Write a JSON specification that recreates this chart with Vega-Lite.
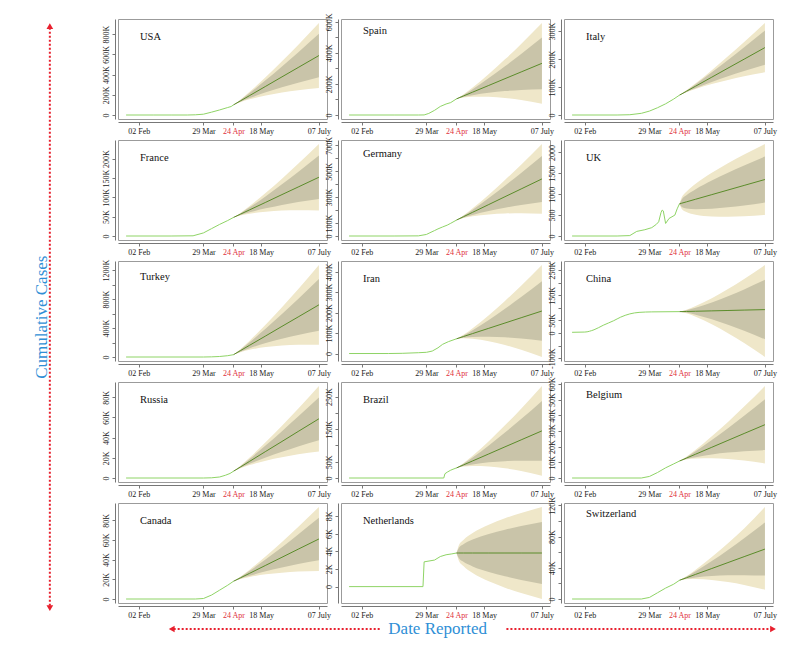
{
"$schema": "https://vega.github.io/schema/vega-lite/v6.json",
"padding": {"left": 5, "top": 12, "right": 5, "bottom": 5},
"background": "white",
"datasets": {"d": [
{"c":"USA","d":"2020-01-22","v":0},{"c":"USA","d":"2020-02-15","v":0},{"c":"USA","d":"2020-03-01","v":0},{"c":"USA","d":"2020-03-15","v":0},{"c":"USA","d":"2020-03-22","v":2},{"c":"USA","d":"2020-03-29","v":8},{"c":"USA","d":"2020-04-05","v":28},{"c":"USA","d":"2020-04-12","v":50},{"c":"USA","d":"2020-04-19","v":74},{"c":"USA","d":"2020-04-22","v":84},{"c":"USA","d":"2020-04-24","v":100},
{"c":"USA","d":"2020-04-24","m":100,"l9":100,"l8":100,"h8":100,"h9":100},{"c":"USA","d":"2020-04-30","m":139.5,"l9":127.3,"l8":131.3,"h8":147.7,"h9":151.7},{"c":"USA","d":"2020-05-08","m":192.2,"l9":155.2,"l8":167.5,"h8":216.9,"h9":229.2},{"c":"USA","d":"2020-05-22","m":284.5,"l9":193.7,"l8":223.9,"h8":345.1,"h9":375.3},{"c":"USA","d":"2020-06-05","m":377.2,"l9":223.0,"l8":274.2,"h8":480.2,"h9":531.4},{"c":"USA","d":"2020-06-19","m":469.4,"l9":245.3,"l8":319.8,"h8":619.0,"h9":693.5},{"c":"USA","d":"2020-07-07","m":588,"l9":266,"l8":373,"h8":803,"h9":910},
{"c":"Spain","d":"2020-01-22","v":0},{"c":"Spain","d":"2020-03-01","v":0},{"c":"Spain","d":"2020-03-22","v":0},{"c":"Spain","d":"2020-03-27","v":0.5},{"c":"Spain","d":"2020-03-31","v":10},{"c":"Spain","d":"2020-04-05","v":30},{"c":"Spain","d":"2020-04-10","v":55},{"c":"Spain","d":"2020-04-15","v":71},{"c":"Spain","d":"2020-04-19","v":80},{"c":"Spain","d":"2020-04-24","v":104},
{"c":"Spain","d":"2020-04-24","m":104,"l9":104,"l8":104,"h8":104,"h9":104},{"c":"Spain","d":"2020-04-30","m":122.5,"l9":112.6,"l8":116.2,"h8":128.8,"h9":132.4},{"c":"Spain","d":"2020-05-08","m":147.3,"l9":117.4,"l8":128.1,"h8":166.5,"h9":177.2},{"c":"Spain","d":"2020-05-22","m":190.6,"l9":117.3,"l8":143.5,"h8":237.7,"h9":263.9},{"c":"Spain","d":"2020-06-05","m":234.1,"l9":109.6,"l8":154.1,"h8":314.1,"h9":358.6},{"c":"Spain","d":"2020-06-19","m":277.4,"l9":96.4,"l8":161.2,"h8":393.6,"h9":458.4},{"c":"Spain","d":"2020-07-07","m":333,"l9":73,"l8":166,"h8":500,"h9":593},
{"c":"Italy","d":"2020-01-22","v":0},{"c":"Italy","d":"2020-03-01","v":0},{"c":"Italy","d":"2020-03-12","v":1},{"c":"Italy","d":"2020-03-22","v":6},{"c":"Italy","d":"2020-03-29","v":14},{"c":"Italy","d":"2020-04-05","v":26},{"c":"Italy","d":"2020-04-12","v":40},{"c":"Italy","d":"2020-04-19","v":57},{"c":"Italy","d":"2020-04-24","v":71},
{"c":"Italy","d":"2020-04-24","m":71,"l9":71,"l8":71,"h8":71,"h9":71},{"c":"Italy","d":"2020-04-30","m":84.8,"l9":81.5,"l8":82.5,"h8":87.1,"h9":88.1},{"c":"Italy","d":"2020-05-08","m":103.1,"l9":93.0,"l8":96.1,"h8":110.1,"h9":113.2},{"c":"Italy","d":"2020-05-22","m":135.3,"l9":110.5,"l8":118.1,"h8":152.5,"h9":160.1},{"c":"Italy","d":"2020-06-05","m":167.6,"l9":125.4,"l8":138.4,"h8":196.8,"h9":209.8},{"c":"Italy","d":"2020-06-19","m":199.7,"l9":138.5,"l8":157.2,"h8":242.2,"h9":260.9},{"c":"Italy","d":"2020-07-07","m":241,"l9":153,"l8":180,"h8":302,"h9":329},
{"c":"France","d":"2020-01-22","v":0},{"c":"France","d":"2020-03-01","v":0},{"c":"France","d":"2020-03-20","v":0.5},{"c":"France","d":"2020-03-29","v":8},{"c":"France","d":"2020-04-05","v":19},{"c":"France","d":"2020-04-12","v":30},{"c":"France","d":"2020-04-19","v":40},{"c":"France","d":"2020-04-24","v":48},
{"c":"France","d":"2020-04-24","m":48,"l9":48,"l8":48,"h8":48,"h9":48},{"c":"France","d":"2020-04-30","m":56.4,"l9":53.1,"l8":54.3,"h8":58.5,"h9":59.7},{"c":"France","d":"2020-05-08","m":67.7,"l9":57.8,"l8":61.3,"h8":74.1,"h9":77.6},{"c":"France","d":"2020-05-22","m":87.3,"l9":63.0,"l8":71.5,"h8":103.1,"h9":111.6},{"c":"France","d":"2020-06-05","m":107.1,"l9":65.9,"l8":80.3,"h8":133.9,"h9":148.3},{"c":"France","d":"2020-06-19","m":126.7,"l9":66.8,"l8":87.7,"h8":165.7,"h9":186.6},{"c":"France","d":"2020-07-07","m":152,"l9":66,"l8":96,"h8":208,"h9":238},
{"c":"Germany","d":"2020-01-22","v":0},{"c":"Germany","d":"2020-03-01","v":0},{"c":"Germany","d":"2020-03-22","v":1},{"c":"Germany","d":"2020-03-29","v":12},{"c":"Germany","d":"2020-04-01","v":25},{"c":"Germany","d":"2020-04-05","v":42},{"c":"Germany","d":"2020-04-08","v":55},{"c":"Germany","d":"2020-04-12","v":70},{"c":"Germany","d":"2020-04-16","v":84},{"c":"Germany","d":"2020-04-19","v":98},{"c":"Germany","d":"2020-04-24","v":123},
{"c":"Germany","d":"2020-04-24","m":123,"l9":123,"l8":123,"h8":123,"h9":123},{"c":"Germany","d":"2020-04-30","m":148.8,"l9":138.5,"l8":142.0,"h8":155.6,"h9":159.1},{"c":"Germany","d":"2020-05-08","m":183.1,"l9":152.0,"l8":162.6,"h8":203.6,"h9":214.2},{"c":"Germany","d":"2020-05-22","m":243.2,"l9":167.1,"l8":193.0,"h8":293.4,"h9":319.3},{"c":"Germany","d":"2020-06-05","m":303.6,"l9":174.3,"l8":218.3,"h8":388.9,"h9":432.9},{"c":"Germany","d":"2020-06-19","m":363.7,"l9":175.8,"l8":239.8,"h8":487.6,"h9":551.6},{"c":"Germany","d":"2020-07-07","m":441,"l9":171,"l8":263,"h8":619,"h9":711},
{"c":"UK","d":"2020-01-22","v":0},{"c":"UK","d":"2020-03-01","v":0},{"c":"UK","d":"2020-03-12","v":10},{"c":"UK","d":"2020-03-18","v":110},{"c":"UK","d":"2020-03-25","v":150},{"c":"UK","d":"2020-03-31","v":200},{"c":"UK","d":"2020-04-04","v":280},{"c":"UK","d":"2020-04-06","v":340},{"c":"UK","d":"2020-04-08","v":560},{"c":"UK","d":"2020-04-09","v":620},{"c":"UK","d":"2020-04-10","v":600},{"c":"UK","d":"2020-04-12","v":300},{"c":"UK","d":"2020-04-15","v":420},{"c":"UK","d":"2020-04-20","v":500},{"c":"UK","d":"2020-04-22","v":650},{"c":"UK","d":"2020-04-24","v":770},
{"c":"UK","d":"2020-04-24","m":770,"l9":770,"l8":770,"h8":770,"h9":770},{"c":"UK","d":"2020-04-26","m":785.7,"l9":646.3,"l8":695.5,"h8":875.9,"h9":925.1},{"c":"UK","d":"2020-04-30","m":817.1,"l9":574.8,"l8":660.3,"h8":973.9,"h9":1059.4},{"c":"UK","d":"2020-05-08","m":880,"l9":510.2,"l8":640.7,"h8":1119.3,"h9":1249.8},{"c":"UK","d":"2020-05-22","m":990,"l9":467.2,"l8":651.7,"h8":1328.3,"h9":1512.8},{"c":"UK","d":"2020-06-05","m":1100.6,"l9":459.7,"l8":685.9,"h8":1515.3,"h9":1741.5},{"c":"UK","d":"2020-06-19","m":1210.6,"l9":471.1,"l8":732.1,"h8":1689.1,"h9":1950.1},{"c":"UK","d":"2020-07-07","m":1352,"l9":502,"l8":802,"h8":1902,"h9":2202},
{"c":"Turkey","d":"2020-01-22","v":0},{"c":"Turkey","d":"2020-03-29","v":0},{"c":"Turkey","d":"2020-04-05","v":2},{"c":"Turkey","d":"2020-04-12","v":7},{"c":"Turkey","d":"2020-04-19","v":18},{"c":"Turkey","d":"2020-04-24","v":32},
{"c":"Turkey","d":"2020-04-24","m":32,"l9":32,"l8":32,"h8":32,"h9":32},{"c":"Turkey","d":"2020-04-30","m":87.7,"l9":66.8,"l8":74.2,"h8":101.2,"h9":108.6},{"c":"Turkey","d":"2020-05-08","m":162,"l9":98.7,"l8":121.1,"h8":202.9,"h9":225.3},{"c":"Turkey","d":"2020-05-22","m":292,"l9":136.9,"l8":191.6,"h8":392.4,"h9":447.1},{"c":"Turkey","d":"2020-06-05","m":422.8,"l9":159.3,"l8":252.3,"h8":593.3,"h9":686.3},{"c":"Turkey","d":"2020-06-19","m":552.8,"l9":170.0,"l8":305.0,"h8":800.6,"h9":935.6},{"c":"Turkey","d":"2020-07-07","m":720,"l9":170,"l8":364,"h8":1076,"h9":1270},
{"c":"Iran","d":"2020-01-22","v":0},{"c":"Iran","d":"2020-02-25","v":0},{"c":"Iran","d":"2020-03-08","v":1},{"c":"Iran","d":"2020-03-22","v":4},{"c":"Iran","d":"2020-03-29","v":6},{"c":"Iran","d":"2020-04-03","v":12},{"c":"Iran","d":"2020-04-08","v":28},{"c":"Iran","d":"2020-04-12","v":45},{"c":"Iran","d":"2020-04-17","v":58},{"c":"Iran","d":"2020-04-24","v":72},
{"c":"Iran","d":"2020-04-24","m":72,"l9":72,"l8":72,"h8":72,"h9":72},{"c":"Iran","d":"2020-04-30","m":83.0,"l9":74.4,"l8":77.5,"h8":88.5,"h9":91.6},{"c":"Iran","d":"2020-05-08","m":97.7,"l9":71.8,"l8":81.0,"h8":114.4,"h9":123.6},{"c":"Iran","d":"2020-05-22","m":123.4,"l9":59.9,"l8":82.5,"h8":164.3,"h9":186.9},{"c":"Iran","d":"2020-06-05","m":149.2,"l9":41.4,"l8":79.7,"h8":218.7,"h9":257.0},{"c":"Iran","d":"2020-06-19","m":175.0,"l9":18.4,"l8":74.1,"h8":275.9,"h9":331.6},{"c":"Iran","d":"2020-07-07","m":208,"l9":-17,"l8":63,"h8":353,"h9":433},
{"c":"China","d":"2020-01-22","v":3},{"c":"China","d":"2020-02-02","v":4},{"c":"China","d":"2020-02-10","v":13},{"c":"China","d":"2020-02-18","v":31},{"c":"China","d":"2020-02-27","v":49},{"c":"China","d":"2020-03-04","v":63},{"c":"China","d":"2020-03-12","v":76},{"c":"China","d":"2020-03-20","v":82},{"c":"China","d":"2020-03-31","v":84},{"c":"China","d":"2020-04-24","v":85},
{"c":"China","d":"2020-04-24","m":85,"l9":85,"l8":85,"h8":85,"h9":85},{"c":"China","d":"2020-04-30","m":85.6,"l9":78.5,"l8":81.1,"h8":90.1,"h9":92.3},{"c":"China","d":"2020-05-08","m":86.5,"l9":64.9,"l8":72.9,"h8":100.1,"h9":106.9},{"c":"China","d":"2020-05-22","m":88.0,"l9":35.0,"l8":54.7,"h8":121.3,"h9":137.9},{"c":"China","d":"2020-06-05","m":89.5,"l9":-0.5,"l8":33.0,"h8":146.0,"h9":174.3},{"c":"China","d":"2020-06-19","m":91.1,"l9":-39.7,"l8":9.0,"h8":173.2,"h9":214.3},{"c":"China","d":"2020-07-07","m":93,"l9":-95,"l8":-25,"h8":211,"h9":270},
{"c":"Russia","d":"2020-01-22","v":0},{"c":"Russia","d":"2020-03-29","v":0},{"c":"Russia","d":"2020-04-05","v":0.2},{"c":"Russia","d":"2020-04-12","v":1},{"c":"Russia","d":"2020-04-17","v":2.7},{"c":"Russia","d":"2020-04-21","v":4.5},{"c":"Russia","d":"2020-04-24","v":6.7},
{"c":"Russia","d":"2020-04-24","m":6.7,"l9":6.7,"l8":6.7,"h8":6.7,"h9":6.7},{"c":"Russia","d":"2020-04-30","m":10.9,"l9":9.7,"l8":10.1,"h8":11.7,"h9":12.1},{"c":"Russia","d":"2020-05-08","m":16.5,"l9":12.8,"l8":14.1,"h8":18.9,"h9":20.2},{"c":"Russia","d":"2020-05-22","m":26.4,"l9":17.2,"l8":20.4,"h8":32.4,"h9":35.6},{"c":"Russia","d":"2020-06-05","m":36.2,"l9":20.6,"l8":26.0,"h8":46.4,"h9":51.8},{"c":"Russia","d":"2020-06-19","m":46.1,"l9":23.5,"l8":31.3,"h8":60.9,"h9":68.7},{"c":"Russia","d":"2020-07-07","m":58.7,"l9":26.2,"l8":37.5,"h8":79.9,"h9":91.2},
{"c":"Brazil","d":"2020-01-22","v":0},{"c":"Brazil","d":"2020-04-13","v":0},{"c":"Brazil","d":"2020-04-14","v":13},{"c":"Brazil","d":"2020-04-16","v":18},{"c":"Brazil","d":"2020-04-19","v":24},{"c":"Brazil","d":"2020-04-21","v":27},{"c":"Brazil","d":"2020-04-24","v":31},
{"c":"Brazil","d":"2020-04-24","m":31,"l9":31,"l8":31,"h8":31,"h9":31},{"c":"Brazil","d":"2020-04-30","m":40.2,"l9":35.0,"l8":36.7,"h8":43.7,"h9":45.4},{"c":"Brazil","d":"2020-05-08","m":52.5,"l9":36.6,"l8":41.9,"h8":63.1,"h9":68.4},{"c":"Brazil","d":"2020-05-22","m":74.1,"l9":35.2,"l8":48.2,"h8":100.0,"h9":113.0},{"c":"Brazil","d":"2020-06-05","m":95.8,"l9":29.7,"l8":51.7,"h8":139.9,"h9":161.9},{"c":"Brazil","d":"2020-06-19","m":117.3,"l9":21.3,"l8":53.3,"h8":181.3,"h9":213.3},{"c":"Brazil","d":"2020-07-07","m":145,"l9":7,"l8":53,"h8":237,"h9":283},
{"c":"Belgium","d":"2020-01-22","v":0},{"c":"Belgium","d":"2020-03-22","v":0},{"c":"Belgium","d":"2020-03-29","v":1},{"c":"Belgium","d":"2020-04-05","v":3.5},{"c":"Belgium","d":"2020-04-12","v":6.5},{"c":"Belgium","d":"2020-04-19","v":9},{"c":"Belgium","d":"2020-04-24","v":10.8},
{"c":"Belgium","d":"2020-04-24","m":10.8,"l9":10.8,"l8":10.8,"h8":10.8,"h9":10.8},{"c":"Belgium","d":"2020-04-30","m":12.7,"l9":11.8,"l8":12.1,"h8":13.3,"h9":13.6},{"c":"Belgium","d":"2020-05-08","m":15.2,"l9":12.4,"l8":13.3,"h8":17.1,"h9":18.0},{"c":"Belgium","d":"2020-05-22","m":19.6,"l9":12.6,"l8":15.0,"h8":24.2,"h9":26.6},{"c":"Belgium","d":"2020-06-05","m":24.0,"l9":12.2,"l8":16.2,"h8":31.8,"h9":35.8},{"c":"Belgium","d":"2020-06-19","m":28.4,"l9":11.2,"l8":17.1,"h8":39.7,"h9":45.6},{"c":"Belgium","d":"2020-07-07","m":34,"l9":9.3,"l8":17.8,"h8":50.2,"h9":58.7},
{"c":"Canada","d":"2020-01-22","v":0},{"c":"Canada","d":"2020-03-22","v":0},{"c":"Canada","d":"2020-03-29","v":0.5},{"c":"Canada","d":"2020-04-05","v":4},{"c":"Canada","d":"2020-04-12","v":9},{"c":"Canada","d":"2020-04-19","v":14},{"c":"Canada","d":"2020-04-24","v":18},
{"c":"Canada","d":"2020-04-24","m":18,"l9":18,"l8":18,"h8":18,"h9":18},{"c":"Canada","d":"2020-04-30","m":21.5,"l9":20.3,"l8":20.7,"h8":22.3,"h9":22.7},{"c":"Canada","d":"2020-05-08","m":26.1,"l9":22.4,"l8":23.6,"h8":28.6,"h9":29.8},{"c":"Canada","d":"2020-05-22","m":34.3,"l9":25.1,"l8":28.2,"h8":40.4,"h9":43.5},{"c":"Canada","d":"2020-06-05","m":42.4,"l9":26.8,"l8":32.1,"h8":52.7,"h9":58.0},{"c":"Canada","d":"2020-06-19","m":50.6,"l9":28.0,"l8":35.6,"h8":65.6,"h9":73.2},{"c":"Canada","d":"2020-07-07","m":61,"l9":28.5,"l8":39.5,"h8":82.5,"h9":93.5},
{"c":"Netherlands","d":"2020-01-22","v":0},{"c":"Netherlands","d":"2020-03-26","v":0},{"c":"Netherlands","d":"2020-03-27","v":2.8},{"c":"Netherlands","d":"2020-04-05","v":3.0},{"c":"Netherlands","d":"2020-04-10","v":3.4},{"c":"Netherlands","d":"2020-04-15","v":3.6},{"c":"Netherlands","d":"2020-04-20","v":3.7},{"c":"Netherlands","d":"2020-04-24","v":3.8},
{"c":"Netherlands","d":"2020-04-24","m":3.8,"l9":3.8,"l8":3.8,"h8":3.8,"h9":3.8},{"c":"Netherlands","d":"2020-04-26","m":3.8,"l9":2.95,"l8":3.23,"h8":4.37,"h9":4.65},{"c":"Netherlands","d":"2020-04-30","m":3.8,"l9":2.32,"l8":2.8,"h8":4.8,"h9":5.28},{"c":"Netherlands","d":"2020-05-08","m":3.8,"l9":1.54,"l8":2.28,"h8":5.32,"h9":6.06},{"c":"Netherlands","d":"2020-05-22","m":3.8,"l9":0.6,"l8":1.65,"h8":5.95,"h9":7.0},{"c":"Netherlands","d":"2020-06-05","m":3.8,"l9":-0.12,"l8":1.16,"h8":6.44,"h9":7.72},{"c":"Netherlands","d":"2020-06-19","m":3.8,"l9":-0.72,"l8":0.76,"h8":6.84,"h9":8.32},{"c":"Netherlands","d":"2020-07-07","m":3.8,"l9":-1.4,"l8":0.3,"h8":7.3,"h9":9.0},
{"c":"Switzerland","d":"2020-01-22","v":0},{"c":"Switzerland","d":"2020-03-22","v":0},{"c":"Switzerland","d":"2020-03-29","v":2},{"c":"Switzerland","d":"2020-04-05","v":8},{"c":"Switzerland","d":"2020-04-12","v":14},{"c":"Switzerland","d":"2020-04-19","v":19},{"c":"Switzerland","d":"2020-04-24","v":24},
{"c":"Switzerland","d":"2020-04-24","m":24,"l9":24,"l8":24,"h8":24,"h9":24},{"c":"Switzerland","d":"2020-04-30","m":27.2,"l9":25.2,"l8":25.9,"h8":28.5,"h9":29.2},{"c":"Switzerland","d":"2020-05-08","m":31.6,"l9":25.6,"l8":27.7,"h8":35.5,"h9":37.6},{"c":"Switzerland","d":"2020-05-22","m":39.1,"l9":24.4,"l8":29.5,"h8":48.7,"h9":53.8},{"c":"Switzerland","d":"2020-06-05","m":46.7,"l9":21.8,"l8":30.4,"h8":63.0,"h9":71.6},{"c":"Switzerland","d":"2020-06-19","m":54.3,"l9":18.1,"l8":30.6,"h8":78.0,"h9":90.5},{"c":"Switzerland","d":"2020-07-07","m":64,"l9":12,"l8":30,"h8":98,"h9":118}
]},
"data": {"name": "d"},
"spacing": 20,
"hconcat": [
{"width": 76, "height": 600, "data": {"values": [{}]}, "view": {"stroke": null},
 "layer": [
  {"mark": {"type": "rule", "color": "#e8202e", "strokeWidth": 2, "strokeDash": [2, 2]},
   "encoding": {"x": {"datum": 0.59, "type": "quantitative", "scale": {"domain": [0, 1]}, "axis": null}, "y": {"datum": 0.022, "type": "quantitative", "scale": {"domain": [0, 1]}, "axis": null}, "y2": {"datum": 0.985}}},
  {"mark": {"type": "point", "shape": "triangle-up", "filled": true, "color": "#e8202e", "size": 45, "opacity": 1},
   "encoding": {"x": {"datum": 0.59, "type": "quantitative"}, "y": {"datum": 0.988, "type": "quantitative"}}},
  {"mark": {"type": "point", "shape": "triangle-down", "filled": true, "color": "#e8202e", "size": 45, "opacity": 1},
   "encoding": {"x": {"datum": 0.59, "type": "quantitative"}, "y": {"datum": 0.018, "type": "quantitative"}}},
  {"mark": {"type": "text", "text": "Cumulative Cases", "angle": 270, "fontSize": 17, "color": "#2f8fd6", "font": "Liberation Serif", "baseline": "middle", "align": "center"},
   "encoding": {"x": {"datum": 0.487, "type": "quantitative"}, "y": {"datum": 0.503, "type": "quantitative"}}}
 ]},
{"spacing": 0, "vconcat": [
 {"columns": 3, "spacing": {"row": 21, "column": 14}, "bounds": "flush", "concat": [
  {"title": "USA", "width": 209, "height": 100, "transform": [{"filter": "datum.c == 'USA'"}],
   "encoding": {"x": {"field":"d","type":"temporal","title":null,"scale":{"type":"utc","domain":[{"year":2020,"month":1,"date":15,"utc":true},{"year":2020,"month":7,"date":14,"utc":true}]},"axis":{"values":[{"year":2020,"month":2,"date":2,"utc":true},{"year":2020,"month":3,"date":29,"utc":true},{"year":2020,"month":4,"date":24,"utc":true},{"year":2020,"month":5,"date":18,"utc":true},{"year":2020,"month":7,"date":7,"utc":true}],"labelExpr":"utcmonth(datum.value) == 6 ? '07 July' : utcFormat(datum.value, '%d %b')","labelColor":{"condition":{"test":"utcmonth(datum.value) == 3 && utcdate(datum.value) == 24","value":"#e0303a"},"value":"#222222"}}}},
   "layer": [
    {"transform": [{"filter": "isValid(datum.m)"}], "mark": {"type": "area", "color": "#efe7c9", "interpolate": "monotone"}, "encoding": {"y": {"field": "h9", "type": "quantitative", "title": null, "scale": {"nice": false, "zero": false, "padding": 4}, "axis": {"labelOverlap": false, "values": [0,200,400,600,800], "labelExpr": "datum.value == 0 ? '0' : datum.value + 'K'"}}, "y2": {"field": "l9"}}},
    {"transform": [{"filter": "isValid(datum.m)"}], "mark": {"type": "area", "color": "#c9c4a9", "interpolate": "monotone"}, "encoding": {"y": {"field": "h8", "type": "quantitative", "title": null, "axis": {"labelOverlap": false, "values": [0,200,400,600,800], "labelExpr": "datum.value == 0 ? '0' : datum.value + 'K'"}}, "y2": {"field": "l8"}}},
    {"transform": [{"filter": "isValid(datum.v)"}], "mark": {"type": "line", "color": "#8fd466", "strokeWidth": 1}, "encoding": {"y": {"field": "v", "type": "quantitative", "title": null, "axis": {"labelOverlap": false, "values": [0,200,400,600,800], "labelExpr": "datum.value == 0 ? '0' : datum.value + 'K'"}}}},
    {"transform": [{"filter": "isValid(datum.m)"}], "mark": {"type": "line", "color": "#5b8c2a", "strokeWidth": 1}, "encoding": {"y": {"field": "m", "type": "quantitative", "title": null, "axis": {"labelOverlap": false, "values": [0,200,400,600,800], "labelExpr": "datum.value == 0 ? '0' : datum.value + 'K'"}}}}
   ]},
  {"title": "Spain", "width": 209, "height": 100, "transform": [{"filter": "datum.c == 'Spain'"}],
   "encoding": {"x": {"field":"d","type":"temporal","title":null,"scale":{"type":"utc","domain":[{"year":2020,"month":1,"date":15,"utc":true},{"year":2020,"month":7,"date":14,"utc":true}]},"axis":{"values":[{"year":2020,"month":2,"date":2,"utc":true},{"year":2020,"month":3,"date":29,"utc":true},{"year":2020,"month":4,"date":24,"utc":true},{"year":2020,"month":5,"date":18,"utc":true},{"year":2020,"month":7,"date":7,"utc":true}],"labelExpr":"utcmonth(datum.value) == 6 ? '07 July' : utcFormat(datum.value, '%d %b')","labelColor":{"condition":{"test":"utcmonth(datum.value) == 3 && utcdate(datum.value) == 24","value":"#e0303a"},"value":"#222222"}}}},
   "layer": [
    {"transform": [{"filter": "isValid(datum.m)"}], "mark": {"type": "area", "color": "#efe7c9", "interpolate": "monotone"}, "encoding": {"y": {"field": "h9", "type": "quantitative", "title": null, "scale": {"nice": false, "zero": false, "padding": 4}, "axis": {"labelOverlap": false, "values": [0,100,200,300,400,500,600], "labelExpr": "datum.value % 200 == 0 ? (datum.value == 0 ? '0' : datum.value + 'K') : ''"}}, "y2": {"field": "l9"}}},
    {"transform": [{"filter": "isValid(datum.m)"}], "mark": {"type": "area", "color": "#c9c4a9", "interpolate": "monotone"}, "encoding": {"y": {"field": "h8", "type": "quantitative", "title": null, "axis": {"labelOverlap": false, "values": [0,100,200,300,400,500,600], "labelExpr": "datum.value % 200 == 0 ? (datum.value == 0 ? '0' : datum.value + 'K') : ''"}}, "y2": {"field": "l8"}}},
    {"transform": [{"filter": "isValid(datum.v)"}], "mark": {"type": "line", "color": "#8fd466", "strokeWidth": 1}, "encoding": {"y": {"field": "v", "type": "quantitative", "title": null, "axis": {"labelOverlap": false, "values": [0,100,200,300,400,500,600], "labelExpr": "datum.value % 200 == 0 ? (datum.value == 0 ? '0' : datum.value + 'K') : ''"}}}},
    {"transform": [{"filter": "isValid(datum.m)"}], "mark": {"type": "line", "color": "#5b8c2a", "strokeWidth": 1}, "encoding": {"y": {"field": "m", "type": "quantitative", "title": null, "axis": {"labelOverlap": false, "values": [0,100,200,300,400,500,600], "labelExpr": "datum.value % 200 == 0 ? (datum.value == 0 ? '0' : datum.value + 'K') : ''"}}}}
   ]},
  {"title": "Italy", "width": 209, "height": 100, "transform": [{"filter": "datum.c == 'Italy'"}],
   "encoding": {"x": {"field":"d","type":"temporal","title":null,"scale":{"type":"utc","domain":[{"year":2020,"month":1,"date":15,"utc":true},{"year":2020,"month":7,"date":14,"utc":true}]},"axis":{"values":[{"year":2020,"month":2,"date":2,"utc":true},{"year":2020,"month":3,"date":29,"utc":true},{"year":2020,"month":4,"date":24,"utc":true},{"year":2020,"month":5,"date":18,"utc":true},{"year":2020,"month":7,"date":7,"utc":true}],"labelExpr":"utcmonth(datum.value) == 6 ? '07 July' : utcFormat(datum.value, '%d %b')","labelColor":{"condition":{"test":"utcmonth(datum.value) == 3 && utcdate(datum.value) == 24","value":"#e0303a"},"value":"#222222"}}}},
   "layer": [
    {"transform": [{"filter": "isValid(datum.m)"}], "mark": {"type": "area", "color": "#efe7c9", "interpolate": "monotone"}, "encoding": {"y": {"field": "h9", "type": "quantitative", "title": null, "scale": {"nice": false, "zero": false, "padding": 4}, "axis": {"labelOverlap": false, "values": [0,100,200,300], "labelExpr": "datum.value == 0 ? '0' : datum.value + 'K'"}}, "y2": {"field": "l9"}}},
    {"transform": [{"filter": "isValid(datum.m)"}], "mark": {"type": "area", "color": "#c9c4a9", "interpolate": "monotone"}, "encoding": {"y": {"field": "h8", "type": "quantitative", "title": null, "axis": {"labelOverlap": false, "values": [0,100,200,300], "labelExpr": "datum.value == 0 ? '0' : datum.value + 'K'"}}, "y2": {"field": "l8"}}},
    {"transform": [{"filter": "isValid(datum.v)"}], "mark": {"type": "line", "color": "#8fd466", "strokeWidth": 1}, "encoding": {"y": {"field": "v", "type": "quantitative", "title": null, "axis": {"labelOverlap": false, "values": [0,100,200,300], "labelExpr": "datum.value == 0 ? '0' : datum.value + 'K'"}}}},
    {"transform": [{"filter": "isValid(datum.m)"}], "mark": {"type": "line", "color": "#5b8c2a", "strokeWidth": 1}, "encoding": {"y": {"field": "m", "type": "quantitative", "title": null, "axis": {"labelOverlap": false, "values": [0,100,200,300], "labelExpr": "datum.value == 0 ? '0' : datum.value + 'K'"}}}}
   ]},
  {"title": "France", "width": 209, "height": 100, "transform": [{"filter": "datum.c == 'France'"}],
   "encoding": {"x": {"field":"d","type":"temporal","title":null,"scale":{"type":"utc","domain":[{"year":2020,"month":1,"date":15,"utc":true},{"year":2020,"month":7,"date":14,"utc":true}]},"axis":{"values":[{"year":2020,"month":2,"date":2,"utc":true},{"year":2020,"month":3,"date":29,"utc":true},{"year":2020,"month":4,"date":24,"utc":true},{"year":2020,"month":5,"date":18,"utc":true},{"year":2020,"month":7,"date":7,"utc":true}],"labelExpr":"utcmonth(datum.value) == 6 ? '07 July' : utcFormat(datum.value, '%d %b')","labelColor":{"condition":{"test":"utcmonth(datum.value) == 3 && utcdate(datum.value) == 24","value":"#e0303a"},"value":"#222222"}}}},
   "layer": [
    {"transform": [{"filter": "isValid(datum.m)"}], "mark": {"type": "area", "color": "#efe7c9", "interpolate": "monotone"}, "encoding": {"y": {"field": "h9", "type": "quantitative", "title": null, "scale": {"nice": false, "zero": false, "padding": 4}, "axis": {"labelOverlap": false, "values": [0,50,100,150,200], "labelExpr": "datum.value == 0 ? '0' : datum.value + 'K'"}}, "y2": {"field": "l9"}}},
    {"transform": [{"filter": "isValid(datum.m)"}], "mark": {"type": "area", "color": "#c9c4a9", "interpolate": "monotone"}, "encoding": {"y": {"field": "h8", "type": "quantitative", "title": null, "axis": {"labelOverlap": false, "values": [0,50,100,150,200], "labelExpr": "datum.value == 0 ? '0' : datum.value + 'K'"}}, "y2": {"field": "l8"}}},
    {"transform": [{"filter": "isValid(datum.v)"}], "mark": {"type": "line", "color": "#8fd466", "strokeWidth": 1}, "encoding": {"y": {"field": "v", "type": "quantitative", "title": null, "axis": {"labelOverlap": false, "values": [0,50,100,150,200], "labelExpr": "datum.value == 0 ? '0' : datum.value + 'K'"}}}},
    {"transform": [{"filter": "isValid(datum.m)"}], "mark": {"type": "line", "color": "#5b8c2a", "strokeWidth": 1}, "encoding": {"y": {"field": "m", "type": "quantitative", "title": null, "axis": {"labelOverlap": false, "values": [0,50,100,150,200], "labelExpr": "datum.value == 0 ? '0' : datum.value + 'K'"}}}}
   ]},
  {"title": "Germany", "width": 209, "height": 100, "transform": [{"filter": "datum.c == 'Germany'"}],
   "encoding": {"x": {"field":"d","type":"temporal","title":null,"scale":{"type":"utc","domain":[{"year":2020,"month":1,"date":15,"utc":true},{"year":2020,"month":7,"date":14,"utc":true}]},"axis":{"values":[{"year":2020,"month":2,"date":2,"utc":true},{"year":2020,"month":3,"date":29,"utc":true},{"year":2020,"month":4,"date":24,"utc":true},{"year":2020,"month":5,"date":18,"utc":true},{"year":2020,"month":7,"date":7,"utc":true}],"labelExpr":"utcmonth(datum.value) == 6 ? '07 July' : utcFormat(datum.value, '%d %b')","labelColor":{"condition":{"test":"utcmonth(datum.value) == 3 && utcdate(datum.value) == 24","value":"#e0303a"},"value":"#222222"}}}},
   "layer": [
    {"transform": [{"filter": "isValid(datum.m)"}], "mark": {"type": "area", "color": "#efe7c9", "interpolate": "monotone"}, "encoding": {"y": {"field": "h9", "type": "quantitative", "title": null, "scale": {"nice": false, "zero": false, "padding": 4}, "axis": {"labelOverlap": false, "values": [0,100,200,300,400,500,600,700], "labelExpr": "datum.value == 0 ? '0' : (datum.value % 200 == 100 ? datum.value + 'K' : '')"}}, "y2": {"field": "l9"}}},
    {"transform": [{"filter": "isValid(datum.m)"}], "mark": {"type": "area", "color": "#c9c4a9", "interpolate": "monotone"}, "encoding": {"y": {"field": "h8", "type": "quantitative", "title": null, "axis": {"labelOverlap": false, "values": [0,100,200,300,400,500,600,700], "labelExpr": "datum.value == 0 ? '0' : (datum.value % 200 == 100 ? datum.value + 'K' : '')"}}, "y2": {"field": "l8"}}},
    {"transform": [{"filter": "isValid(datum.v)"}], "mark": {"type": "line", "color": "#8fd466", "strokeWidth": 1}, "encoding": {"y": {"field": "v", "type": "quantitative", "title": null, "axis": {"labelOverlap": false, "values": [0,100,200,300,400,500,600,700], "labelExpr": "datum.value == 0 ? '0' : (datum.value % 200 == 100 ? datum.value + 'K' : '')"}}}},
    {"transform": [{"filter": "isValid(datum.m)"}], "mark": {"type": "line", "color": "#5b8c2a", "strokeWidth": 1}, "encoding": {"y": {"field": "m", "type": "quantitative", "title": null, "axis": {"labelOverlap": false, "values": [0,100,200,300,400,500,600,700], "labelExpr": "datum.value == 0 ? '0' : (datum.value % 200 == 100 ? datum.value + 'K' : '')"}}}}
   ]},
  {"title": "UK", "width": 209, "height": 100, "transform": [{"filter": "datum.c == 'UK'"}],
   "encoding": {"x": {"field":"d","type":"temporal","title":null,"scale":{"type":"utc","domain":[{"year":2020,"month":1,"date":15,"utc":true},{"year":2020,"month":7,"date":14,"utc":true}]},"axis":{"values":[{"year":2020,"month":2,"date":2,"utc":true},{"year":2020,"month":3,"date":29,"utc":true},{"year":2020,"month":4,"date":24,"utc":true},{"year":2020,"month":5,"date":18,"utc":true},{"year":2020,"month":7,"date":7,"utc":true}],"labelExpr":"utcmonth(datum.value) == 6 ? '07 July' : utcFormat(datum.value, '%d %b')","labelColor":{"condition":{"test":"utcmonth(datum.value) == 3 && utcdate(datum.value) == 24","value":"#e0303a"},"value":"#222222"}}}},
   "layer": [
    {"transform": [{"filter": "isValid(datum.m)"}], "mark": {"type": "area", "color": "#efe7c9", "interpolate": "monotone"}, "encoding": {"y": {"field": "h9", "type": "quantitative", "title": null, "scale": {"nice": false, "zero": false, "padding": 4}, "axis": {"labelOverlap": false, "values": [0,500,1000,1500,2000], "labelExpr": "'' + datum.value"}}, "y2": {"field": "l9"}}},
    {"transform": [{"filter": "isValid(datum.m)"}], "mark": {"type": "area", "color": "#c9c4a9", "interpolate": "monotone"}, "encoding": {"y": {"field": "h8", "type": "quantitative", "title": null, "axis": {"labelOverlap": false, "values": [0,500,1000,1500,2000], "labelExpr": "'' + datum.value"}}, "y2": {"field": "l8"}}},
    {"transform": [{"filter": "isValid(datum.v)"}], "mark": {"type": "line", "color": "#8fd466", "strokeWidth": 1}, "encoding": {"y": {"field": "v", "type": "quantitative", "title": null, "axis": {"labelOverlap": false, "values": [0,500,1000,1500,2000], "labelExpr": "'' + datum.value"}}}},
    {"transform": [{"filter": "isValid(datum.m)"}], "mark": {"type": "line", "color": "#5b8c2a", "strokeWidth": 1}, "encoding": {"y": {"field": "m", "type": "quantitative", "title": null, "axis": {"labelOverlap": false, "values": [0,500,1000,1500,2000], "labelExpr": "'' + datum.value"}}}}
   ]},
  {"title": "Turkey", "width": 209, "height": 100, "transform": [{"filter": "datum.c == 'Turkey'"}],
   "encoding": {"x": {"field":"d","type":"temporal","title":null,"scale":{"type":"utc","domain":[{"year":2020,"month":1,"date":15,"utc":true},{"year":2020,"month":7,"date":14,"utc":true}]},"axis":{"values":[{"year":2020,"month":2,"date":2,"utc":true},{"year":2020,"month":3,"date":29,"utc":true},{"year":2020,"month":4,"date":24,"utc":true},{"year":2020,"month":5,"date":18,"utc":true},{"year":2020,"month":7,"date":7,"utc":true}],"labelExpr":"utcmonth(datum.value) == 6 ? '07 July' : utcFormat(datum.value, '%d %b')","labelColor":{"condition":{"test":"utcmonth(datum.value) == 3 && utcdate(datum.value) == 24","value":"#e0303a"},"value":"#222222"}}}},
   "layer": [
    {"transform": [{"filter": "isValid(datum.m)"}], "mark": {"type": "area", "color": "#efe7c9", "interpolate": "monotone"}, "encoding": {"y": {"field": "h9", "type": "quantitative", "title": null, "scale": {"nice": false, "zero": false, "padding": 4}, "axis": {"labelOverlap": false, "values": [0,200,400,600,800,1000,1200], "labelExpr": "datum.value % 400 == 0 ? (datum.value == 0 ? '0' : datum.value + 'K') : ''"}}, "y2": {"field": "l9"}}},
    {"transform": [{"filter": "isValid(datum.m)"}], "mark": {"type": "area", "color": "#c9c4a9", "interpolate": "monotone"}, "encoding": {"y": {"field": "h8", "type": "quantitative", "title": null, "axis": {"labelOverlap": false, "values": [0,200,400,600,800,1000,1200], "labelExpr": "datum.value % 400 == 0 ? (datum.value == 0 ? '0' : datum.value + 'K') : ''"}}, "y2": {"field": "l8"}}},
    {"transform": [{"filter": "isValid(datum.v)"}], "mark": {"type": "line", "color": "#8fd466", "strokeWidth": 1}, "encoding": {"y": {"field": "v", "type": "quantitative", "title": null, "axis": {"labelOverlap": false, "values": [0,200,400,600,800,1000,1200], "labelExpr": "datum.value % 400 == 0 ? (datum.value == 0 ? '0' : datum.value + 'K') : ''"}}}},
    {"transform": [{"filter": "isValid(datum.m)"}], "mark": {"type": "line", "color": "#5b8c2a", "strokeWidth": 1}, "encoding": {"y": {"field": "m", "type": "quantitative", "title": null, "axis": {"labelOverlap": false, "values": [0,200,400,600,800,1000,1200], "labelExpr": "datum.value % 400 == 0 ? (datum.value == 0 ? '0' : datum.value + 'K') : ''"}}}}
   ]},
  {"title": "Iran", "width": 209, "height": 100, "transform": [{"filter": "datum.c == 'Iran'"}],
   "encoding": {"x": {"field":"d","type":"temporal","title":null,"scale":{"type":"utc","domain":[{"year":2020,"month":1,"date":15,"utc":true},{"year":2020,"month":7,"date":14,"utc":true}]},"axis":{"values":[{"year":2020,"month":2,"date":2,"utc":true},{"year":2020,"month":3,"date":29,"utc":true},{"year":2020,"month":4,"date":24,"utc":true},{"year":2020,"month":5,"date":18,"utc":true},{"year":2020,"month":7,"date":7,"utc":true}],"labelExpr":"utcmonth(datum.value) == 6 ? '07 July' : utcFormat(datum.value, '%d %b')","labelColor":{"condition":{"test":"utcmonth(datum.value) == 3 && utcdate(datum.value) == 24","value":"#e0303a"},"value":"#222222"}}}},
   "layer": [
    {"transform": [{"filter": "isValid(datum.m)"}], "mark": {"type": "area", "color": "#efe7c9", "interpolate": "monotone"}, "encoding": {"y": {"field": "h9", "type": "quantitative", "title": null, "scale": {"nice": false, "zero": false, "padding": 4}, "axis": {"labelOverlap": false, "values": [0,100,200,300,400], "labelExpr": "datum.value == 0 ? '0' : datum.value + 'K'"}}, "y2": {"field": "l9"}}},
    {"transform": [{"filter": "isValid(datum.m)"}], "mark": {"type": "area", "color": "#c9c4a9", "interpolate": "monotone"}, "encoding": {"y": {"field": "h8", "type": "quantitative", "title": null, "axis": {"labelOverlap": false, "values": [0,100,200,300,400], "labelExpr": "datum.value == 0 ? '0' : datum.value + 'K'"}}, "y2": {"field": "l8"}}},
    {"transform": [{"filter": "isValid(datum.v)"}], "mark": {"type": "line", "color": "#8fd466", "strokeWidth": 1}, "encoding": {"y": {"field": "v", "type": "quantitative", "title": null, "axis": {"labelOverlap": false, "values": [0,100,200,300,400], "labelExpr": "datum.value == 0 ? '0' : datum.value + 'K'"}}}},
    {"transform": [{"filter": "isValid(datum.m)"}], "mark": {"type": "line", "color": "#5b8c2a", "strokeWidth": 1}, "encoding": {"y": {"field": "m", "type": "quantitative", "title": null, "axis": {"labelOverlap": false, "values": [0,100,200,300,400], "labelExpr": "datum.value == 0 ? '0' : datum.value + 'K'"}}}}
   ]},
  {"title": "China", "width": 209, "height": 100, "transform": [{"filter": "datum.c == 'China'"}],
   "encoding": {"x": {"field":"d","type":"temporal","title":null,"scale":{"type":"utc","domain":[{"year":2020,"month":1,"date":15,"utc":true},{"year":2020,"month":7,"date":14,"utc":true}]},"axis":{"values":[{"year":2020,"month":2,"date":2,"utc":true},{"year":2020,"month":3,"date":29,"utc":true},{"year":2020,"month":4,"date":24,"utc":true},{"year":2020,"month":5,"date":18,"utc":true},{"year":2020,"month":7,"date":7,"utc":true}],"labelExpr":"utcmonth(datum.value) == 6 ? '07 July' : utcFormat(datum.value, '%d %b')","labelColor":{"condition":{"test":"utcmonth(datum.value) == 3 && utcdate(datum.value) == 24","value":"#e0303a"},"value":"#222222"}}}},
   "layer": [
    {"transform": [{"filter": "isValid(datum.m)"}], "mark": {"type": "area", "color": "#efe7c9", "interpolate": "monotone"}, "encoding": {"y": {"field": "h9", "type": "quantitative", "title": null, "scale": {"nice": false, "zero": false, "padding": 4}, "axis": {"labelOverlap": false, "values": [-100,-50,0,50,100,150,200,250], "labelExpr": "indexof([-100,0,50,150,250], datum.value) >= 0 ? (datum.value == 0 ? '0' : datum.value + 'K') : ''"}}, "y2": {"field": "l9"}}},
    {"transform": [{"filter": "isValid(datum.m)"}], "mark": {"type": "area", "color": "#c9c4a9", "interpolate": "monotone"}, "encoding": {"y": {"field": "h8", "type": "quantitative", "title": null, "axis": {"labelOverlap": false, "values": [-100,-50,0,50,100,150,200,250], "labelExpr": "indexof([-100,0,50,150,250], datum.value) >= 0 ? (datum.value == 0 ? '0' : datum.value + 'K') : ''"}}, "y2": {"field": "l8"}}},
    {"transform": [{"filter": "isValid(datum.v)"}], "mark": {"type": "line", "color": "#8fd466", "strokeWidth": 1, "interpolate": "monotone"}, "encoding": {"y": {"field": "v", "type": "quantitative", "title": null, "axis": {"labelOverlap": false, "values": [-100,-50,0,50,100,150,200,250], "labelExpr": "indexof([-100,0,50,150,250], datum.value) >= 0 ? (datum.value == 0 ? '0' : datum.value + 'K') : ''"}}}},
    {"transform": [{"filter": "isValid(datum.m)"}], "mark": {"type": "line", "color": "#5b8c2a", "strokeWidth": 1}, "encoding": {"y": {"field": "m", "type": "quantitative", "title": null, "axis": {"labelOverlap": false, "values": [-100,-50,0,50,100,150,200,250], "labelExpr": "indexof([-100,0,50,150,250], datum.value) >= 0 ? (datum.value == 0 ? '0' : datum.value + 'K') : ''"}}}}
   ]},
  {"title": "Russia", "width": 209, "height": 100, "transform": [{"filter": "datum.c == 'Russia'"}],
   "encoding": {"x": {"field":"d","type":"temporal","title":null,"scale":{"type":"utc","domain":[{"year":2020,"month":1,"date":15,"utc":true},{"year":2020,"month":7,"date":14,"utc":true}]},"axis":{"values":[{"year":2020,"month":2,"date":2,"utc":true},{"year":2020,"month":3,"date":29,"utc":true},{"year":2020,"month":4,"date":24,"utc":true},{"year":2020,"month":5,"date":18,"utc":true},{"year":2020,"month":7,"date":7,"utc":true}],"labelExpr":"utcmonth(datum.value) == 6 ? '07 July' : utcFormat(datum.value, '%d %b')","labelColor":{"condition":{"test":"utcmonth(datum.value) == 3 && utcdate(datum.value) == 24","value":"#e0303a"},"value":"#222222"}}}},
   "layer": [
    {"transform": [{"filter": "isValid(datum.m)"}], "mark": {"type": "area", "color": "#efe7c9", "interpolate": "monotone"}, "encoding": {"y": {"field": "h9", "type": "quantitative", "title": null, "scale": {"nice": false, "zero": false, "padding": 4}, "axis": {"labelOverlap": false, "values": [0,20,40,60,80], "labelExpr": "datum.value == 0 ? '0' : datum.value + 'K'"}}, "y2": {"field": "l9"}}},
    {"transform": [{"filter": "isValid(datum.m)"}], "mark": {"type": "area", "color": "#c9c4a9", "interpolate": "monotone"}, "encoding": {"y": {"field": "h8", "type": "quantitative", "title": null, "axis": {"labelOverlap": false, "values": [0,20,40,60,80], "labelExpr": "datum.value == 0 ? '0' : datum.value + 'K'"}}, "y2": {"field": "l8"}}},
    {"transform": [{"filter": "isValid(datum.v)"}], "mark": {"type": "line", "color": "#8fd466", "strokeWidth": 1}, "encoding": {"y": {"field": "v", "type": "quantitative", "title": null, "axis": {"labelOverlap": false, "values": [0,20,40,60,80], "labelExpr": "datum.value == 0 ? '0' : datum.value + 'K'"}}}},
    {"transform": [{"filter": "isValid(datum.m)"}], "mark": {"type": "line", "color": "#5b8c2a", "strokeWidth": 1}, "encoding": {"y": {"field": "m", "type": "quantitative", "title": null, "axis": {"labelOverlap": false, "values": [0,20,40,60,80], "labelExpr": "datum.value == 0 ? '0' : datum.value + 'K'"}}}}
   ]},
  {"title": "Brazil", "width": 209, "height": 100, "transform": [{"filter": "datum.c == 'Brazil'"}],
   "encoding": {"x": {"field":"d","type":"temporal","title":null,"scale":{"type":"utc","domain":[{"year":2020,"month":1,"date":15,"utc":true},{"year":2020,"month":7,"date":14,"utc":true}]},"axis":{"values":[{"year":2020,"month":2,"date":2,"utc":true},{"year":2020,"month":3,"date":29,"utc":true},{"year":2020,"month":4,"date":24,"utc":true},{"year":2020,"month":5,"date":18,"utc":true},{"year":2020,"month":7,"date":7,"utc":true}],"labelExpr":"utcmonth(datum.value) == 6 ? '07 July' : utcFormat(datum.value, '%d %b')","labelColor":{"condition":{"test":"utcmonth(datum.value) == 3 && utcdate(datum.value) == 24","value":"#e0303a"},"value":"#222222"}}}},
   "layer": [
    {"transform": [{"filter": "isValid(datum.m)"}], "mark": {"type": "area", "color": "#efe7c9", "interpolate": "monotone"}, "encoding": {"y": {"field": "h9", "type": "quantitative", "title": null, "scale": {"nice": false, "zero": false, "padding": 4}, "axis": {"labelOverlap": false, "values": [0,50,100,150,200,250], "labelExpr": "indexof([0,50,150,250], datum.value) >= 0 ? (datum.value == 0 ? '0' : datum.value + 'K') : ''"}}, "y2": {"field": "l9"}}},
    {"transform": [{"filter": "isValid(datum.m)"}], "mark": {"type": "area", "color": "#c9c4a9", "interpolate": "monotone"}, "encoding": {"y": {"field": "h8", "type": "quantitative", "title": null, "axis": {"labelOverlap": false, "values": [0,50,100,150,200,250], "labelExpr": "indexof([0,50,150,250], datum.value) >= 0 ? (datum.value == 0 ? '0' : datum.value + 'K') : ''"}}, "y2": {"field": "l8"}}},
    {"transform": [{"filter": "isValid(datum.v)"}], "mark": {"type": "line", "color": "#8fd466", "strokeWidth": 1}, "encoding": {"y": {"field": "v", "type": "quantitative", "title": null, "axis": {"labelOverlap": false, "values": [0,50,100,150,200,250], "labelExpr": "indexof([0,50,150,250], datum.value) >= 0 ? (datum.value == 0 ? '0' : datum.value + 'K') : ''"}}}},
    {"transform": [{"filter": "isValid(datum.m)"}], "mark": {"type": "line", "color": "#5b8c2a", "strokeWidth": 1}, "encoding": {"y": {"field": "m", "type": "quantitative", "title": null, "axis": {"labelOverlap": false, "values": [0,50,100,150,200,250], "labelExpr": "indexof([0,50,150,250], datum.value) >= 0 ? (datum.value == 0 ? '0' : datum.value + 'K') : ''"}}}}
   ]},
  {"title": "Belgium", "width": 209, "height": 100, "transform": [{"filter": "datum.c == 'Belgium'"}],
   "encoding": {"x": {"field":"d","type":"temporal","title":null,"scale":{"type":"utc","domain":[{"year":2020,"month":1,"date":15,"utc":true},{"year":2020,"month":7,"date":14,"utc":true}]},"axis":{"values":[{"year":2020,"month":2,"date":2,"utc":true},{"year":2020,"month":3,"date":29,"utc":true},{"year":2020,"month":4,"date":24,"utc":true},{"year":2020,"month":5,"date":18,"utc":true},{"year":2020,"month":7,"date":7,"utc":true}],"labelExpr":"utcmonth(datum.value) == 6 ? '07 July' : utcFormat(datum.value, '%d %b')","labelColor":{"condition":{"test":"utcmonth(datum.value) == 3 && utcdate(datum.value) == 24","value":"#e0303a"},"value":"#222222"}}}},
   "layer": [
    {"transform": [{"filter": "isValid(datum.m)"}], "mark": {"type": "area", "color": "#efe7c9", "interpolate": "monotone"}, "encoding": {"y": {"field": "h9", "type": "quantitative", "title": null, "scale": {"nice": false, "zero": false, "padding": 4}, "axis": {"labelOverlap": false, "values": [0,10,20,30,40,50,60], "labelExpr": "datum.value == 0 ? '0' : datum.value + 'K'"}}, "y2": {"field": "l9"}}},
    {"transform": [{"filter": "isValid(datum.m)"}], "mark": {"type": "area", "color": "#c9c4a9", "interpolate": "monotone"}, "encoding": {"y": {"field": "h8", "type": "quantitative", "title": null, "axis": {"labelOverlap": false, "values": [0,10,20,30,40,50,60], "labelExpr": "datum.value == 0 ? '0' : datum.value + 'K'"}}, "y2": {"field": "l8"}}},
    {"transform": [{"filter": "isValid(datum.v)"}], "mark": {"type": "line", "color": "#8fd466", "strokeWidth": 1}, "encoding": {"y": {"field": "v", "type": "quantitative", "title": null, "axis": {"labelOverlap": false, "values": [0,10,20,30,40,50,60], "labelExpr": "datum.value == 0 ? '0' : datum.value + 'K'"}}}},
    {"transform": [{"filter": "isValid(datum.m)"}], "mark": {"type": "line", "color": "#5b8c2a", "strokeWidth": 1}, "encoding": {"y": {"field": "m", "type": "quantitative", "title": null, "axis": {"labelOverlap": false, "values": [0,10,20,30,40,50,60], "labelExpr": "datum.value == 0 ? '0' : datum.value + 'K'"}}}}
   ]},
  {"title": "Canada", "width": 209, "height": 100, "transform": [{"filter": "datum.c == 'Canada'"}],
   "encoding": {"x": {"field":"d","type":"temporal","title":null,"scale":{"type":"utc","domain":[{"year":2020,"month":1,"date":15,"utc":true},{"year":2020,"month":7,"date":14,"utc":true}]},"axis":{"values":[{"year":2020,"month":2,"date":2,"utc":true},{"year":2020,"month":3,"date":29,"utc":true},{"year":2020,"month":4,"date":24,"utc":true},{"year":2020,"month":5,"date":18,"utc":true},{"year":2020,"month":7,"date":7,"utc":true}],"labelExpr":"utcmonth(datum.value) == 6 ? '07 July' : utcFormat(datum.value, '%d %b')","labelColor":{"condition":{"test":"utcmonth(datum.value) == 3 && utcdate(datum.value) == 24","value":"#e0303a"},"value":"#222222"}}}},
   "layer": [
    {"transform": [{"filter": "isValid(datum.m)"}], "mark": {"type": "area", "color": "#efe7c9", "interpolate": "monotone"}, "encoding": {"y": {"field": "h9", "type": "quantitative", "title": null, "scale": {"nice": false, "zero": false, "padding": 4}, "axis": {"labelOverlap": false, "values": [0,20,40,60,80], "labelExpr": "datum.value == 0 ? '0' : datum.value + 'K'"}}, "y2": {"field": "l9"}}},
    {"transform": [{"filter": "isValid(datum.m)"}], "mark": {"type": "area", "color": "#c9c4a9", "interpolate": "monotone"}, "encoding": {"y": {"field": "h8", "type": "quantitative", "title": null, "axis": {"labelOverlap": false, "values": [0,20,40,60,80], "labelExpr": "datum.value == 0 ? '0' : datum.value + 'K'"}}, "y2": {"field": "l8"}}},
    {"transform": [{"filter": "isValid(datum.v)"}], "mark": {"type": "line", "color": "#8fd466", "strokeWidth": 1}, "encoding": {"y": {"field": "v", "type": "quantitative", "title": null, "axis": {"labelOverlap": false, "values": [0,20,40,60,80], "labelExpr": "datum.value == 0 ? '0' : datum.value + 'K'"}}}},
    {"transform": [{"filter": "isValid(datum.m)"}], "mark": {"type": "line", "color": "#5b8c2a", "strokeWidth": 1}, "encoding": {"y": {"field": "m", "type": "quantitative", "title": null, "axis": {"labelOverlap": false, "values": [0,20,40,60,80], "labelExpr": "datum.value == 0 ? '0' : datum.value + 'K'"}}}}
   ]},
  {"title": "Netherlands", "width": 209, "height": 100, "transform": [{"filter": "datum.c == 'Netherlands'"}],
   "encoding": {"x": {"field":"d","type":"temporal","title":null,"scale":{"type":"utc","domain":[{"year":2020,"month":1,"date":15,"utc":true},{"year":2020,"month":7,"date":14,"utc":true}]},"axis":{"values":[{"year":2020,"month":2,"date":2,"utc":true},{"year":2020,"month":3,"date":29,"utc":true},{"year":2020,"month":4,"date":24,"utc":true},{"year":2020,"month":5,"date":18,"utc":true},{"year":2020,"month":7,"date":7,"utc":true}],"labelExpr":"utcmonth(datum.value) == 6 ? '07 July' : utcFormat(datum.value, '%d %b')","labelColor":{"condition":{"test":"utcmonth(datum.value) == 3 && utcdate(datum.value) == 24","value":"#e0303a"},"value":"#222222"}}}},
   "layer": [
    {"transform": [{"filter": "isValid(datum.m)"}], "mark": {"type": "area", "color": "#efe7c9", "interpolate": "monotone"}, "encoding": {"y": {"field": "h9", "type": "quantitative", "title": null, "scale": {"nice": false, "zero": false, "padding": 4}, "axis": {"labelOverlap": false, "values": [0,2,4,6,8], "labelExpr": "datum.value == 0 ? '0' : datum.value + 'K'"}}, "y2": {"field": "l9"}}},
    {"transform": [{"filter": "isValid(datum.m)"}], "mark": {"type": "area", "color": "#c9c4a9", "interpolate": "monotone"}, "encoding": {"y": {"field": "h8", "type": "quantitative", "title": null, "axis": {"labelOverlap": false, "values": [0,2,4,6,8], "labelExpr": "datum.value == 0 ? '0' : datum.value + 'K'"}}, "y2": {"field": "l8"}}},
    {"transform": [{"filter": "isValid(datum.v)"}], "mark": {"type": "line", "color": "#8fd466", "strokeWidth": 1}, "encoding": {"y": {"field": "v", "type": "quantitative", "title": null, "axis": {"labelOverlap": false, "values": [0,2,4,6,8], "labelExpr": "datum.value == 0 ? '0' : datum.value + 'K'"}}}},
    {"transform": [{"filter": "isValid(datum.m)"}], "mark": {"type": "line", "color": "#5b8c2a", "strokeWidth": 1}, "encoding": {"y": {"field": "m", "type": "quantitative", "title": null, "axis": {"labelOverlap": false, "values": [0,2,4,6,8], "labelExpr": "datum.value == 0 ? '0' : datum.value + 'K'"}}}}
   ]},
  {"title": "Switzerland", "width": 209, "height": 100, "transform": [{"filter": "datum.c == 'Switzerland'"}],
   "encoding": {"x": {"field":"d","type":"temporal","title":null,"scale":{"type":"utc","domain":[{"year":2020,"month":1,"date":15,"utc":true},{"year":2020,"month":7,"date":14,"utc":true}]},"axis":{"values":[{"year":2020,"month":2,"date":2,"utc":true},{"year":2020,"month":3,"date":29,"utc":true},{"year":2020,"month":4,"date":24,"utc":true},{"year":2020,"month":5,"date":18,"utc":true},{"year":2020,"month":7,"date":7,"utc":true}],"labelExpr":"utcmonth(datum.value) == 6 ? '07 July' : utcFormat(datum.value, '%d %b')","labelColor":{"condition":{"test":"utcmonth(datum.value) == 3 && utcdate(datum.value) == 24","value":"#e0303a"},"value":"#222222"}}}},
   "layer": [
    {"transform": [{"filter": "isValid(datum.m)"}], "mark": {"type": "area", "color": "#efe7c9", "interpolate": "monotone"}, "encoding": {"y": {"field": "h9", "type": "quantitative", "title": null, "scale": {"nice": false, "zero": false, "padding": 4}, "axis": {"labelOverlap": false, "values": [0,20,40,60,80,100,120], "labelExpr": "datum.value % 40 == 0 ? (datum.value == 0 ? '0' : datum.value + 'K') : ''"}}, "y2": {"field": "l9"}}},
    {"transform": [{"filter": "isValid(datum.m)"}], "mark": {"type": "area", "color": "#c9c4a9", "interpolate": "monotone"}, "encoding": {"y": {"field": "h8", "type": "quantitative", "title": null, "axis": {"labelOverlap": false, "values": [0,20,40,60,80,100,120], "labelExpr": "datum.value % 40 == 0 ? (datum.value == 0 ? '0' : datum.value + 'K') : ''"}}, "y2": {"field": "l8"}}},
    {"transform": [{"filter": "isValid(datum.v)"}], "mark": {"type": "line", "color": "#8fd466", "strokeWidth": 1}, "encoding": {"y": {"field": "v", "type": "quantitative", "title": null, "axis": {"labelOverlap": false, "values": [0,20,40,60,80,100,120], "labelExpr": "datum.value % 40 == 0 ? (datum.value == 0 ? '0' : datum.value + 'K') : ''"}}}},
    {"transform": [{"filter": "isValid(datum.m)"}], "mark": {"type": "line", "color": "#5b8c2a", "strokeWidth": 1}, "encoding": {"y": {"field": "m", "type": "quantitative", "title": null, "axis": {"labelOverlap": false, "values": [0,20,40,60,80,100,120], "labelExpr": "datum.value % 40 == 0 ? (datum.value == 0 ? '0' : datum.value + 'K') : ''"}}}}
   ]}
 ]},
 {"width": 655, "height": 16, "data": {"values": [{}]}, "view": {"stroke": null},
  "layer": [
   {"mark": {"type": "rule", "color": "#e8202e", "strokeWidth": 2, "strokeDash": [2, 2]},
    "encoding": {"x": {"datum": 0.085, "type": "quantitative", "scale": {"domain": [0, 1]}, "axis": null}, "x2": {"datum": 0.402}, "y": {"datum": 0.5, "type": "quantitative", "scale": {"domain": [0, 1]}, "axis": null}}},
   {"mark": {"type": "rule", "color": "#e8202e", "strokeWidth": 2, "strokeDash": [2, 2]},
    "encoding": {"x": {"datum": 0.593, "type": "quantitative"}, "x2": {"datum": 0.996}, "y": {"datum": 0.5, "type": "quantitative"}}},
   {"mark": {"type": "point", "shape": "triangle-left", "filled": true, "color": "#e8202e", "size": 45, "opacity": 1},
    "encoding": {"x": {"datum": 0.082, "type": "quantitative"}, "y": {"datum": 0.5, "type": "quantitative"}}},
   {"mark": {"type": "point", "shape": "triangle-right", "filled": true, "color": "#e8202e", "size": 45, "opacity": 1},
    "encoding": {"x": {"datum": 1.0, "type": "quantitative"}, "y": {"datum": 0.5, "type": "quantitative"}}},
   {"mark": {"type": "text", "text": "Date Reported", "fontSize": 17, "color": "#2f8fd6", "font": "Liberation Serif", "baseline": "middle", "align": "center"},
    "encoding": {"x": {"datum": 0.488, "type": "quantitative"}, "y": {"datum": 0.5, "type": "quantitative"}}}
  ]}
]}
],
"config": {
 "font": "Liberation Serif",
 "view": {"stroke": "#9b9b9b", "strokeWidth": 1},
 "axis": {"grid": false, "labelFont": "Liberation Serif", "labelFontSize": 8, "labelColor": "#222222", "tickColor": "#777777", "domainColor": "#777777", "tickSize": 3, "offset": 3, "labelPadding": 2, "labelOverlap": false, "labelFlush": false},
 "axisY": {"labelAngle": 270},
 "title": {"anchor": "start", "frame": "group", "offset": -23, "dx": 22, "fontSize": 10.5, "fontWeight": "normal", "color": "#111111", "font": "Liberation Serif"}
}
}
